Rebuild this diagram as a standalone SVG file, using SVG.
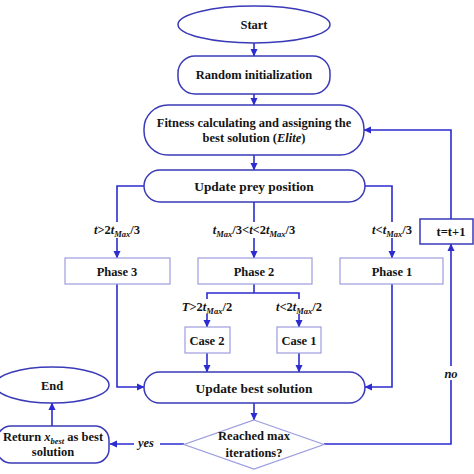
<svg xmlns="http://www.w3.org/2000/svg" width="474" height="474" viewBox="0 0 474 474">
<style>
.bg{fill:#fff}
.n{fill:#fff;stroke:#3a3ab8;stroke-width:1.5}
.p{fill:#fff;stroke:#9c9ce0;stroke-width:1.2}
.c{fill:none;stroke:#2b2bd0;stroke-width:1.6}
.t{font-family:"Liberation Serif","Times New Roman",serif;font-weight:bold;font-size:12.5px;fill:#141414;text-anchor:middle}
.big{font-size:13.4px}
.l{font-family:"Liberation Serif","Times New Roman",serif;font-weight:bold;font-size:12.5px;fill:#141414;text-anchor:middle}
.i{font-style:italic}
.s{font-size:8.5px;font-style:italic}
.w{fill:#fff;stroke:none}
</style>
<defs>
<marker id="a" markerWidth="8" markerHeight="8" refX="7" refY="4" orient="auto" markerUnits="userSpaceOnUse">
<path d="M0,0.5 L7.5,4 L0,7.5 z" fill="#2b2bd0"/>
</marker>
</defs>
<rect class="bg" width="474" height="474"/>

<g id="connectors">
<path class="c" d="M254 43 V56" marker-end="url(#a)"/>
<path class="c" d="M254 94 V105" marker-end="url(#a)"/>
<path class="c" d="M254 155 V170" marker-end="url(#a)"/>
<path class="c" d="M144 186 H117 V258" marker-end="url(#a)"/>
<path class="c" d="M254 202 V258" marker-end="url(#a)"/>
<path class="c" d="M365 186 H392 V258" marker-end="url(#a)"/>
<path class="c" d="M254 284 V293"/>
<path class="c" d="M207 299 V293 H299 V299"/>
<path class="c" d="M207 313 V327" marker-end="url(#a)"/>
<path class="c" d="M299 313 V327" marker-end="url(#a)"/>
<path class="c" d="M207 353 V372" marker-end="url(#a)"/>
<path class="c" d="M299 353 V372" marker-end="url(#a)"/>
<path class="c" d="M117 284 V387 H144" marker-end="url(#a)"/>
<path class="c" d="M392 284 V387 H365" marker-end="url(#a)"/>
<path class="c" d="M254 403 V420" marker-end="url(#a)"/>
<path class="c" d="M184 444 H110" marker-end="url(#a)"/>
<path class="c" d="M52 426 V403" marker-end="url(#a)"/>
<path class="c" d="M324 444 H451 V244" marker-end="url(#a)"/>
<path class="c" d="M451 219 V130 H364" marker-end="url(#a)"/>
<rect class="w" x="84" y="222" width="66" height="16"/>
<text class="l" x="117" y="234"><tspan class="i">t</tspan>&gt;2<tspan class="i">t</tspan><tspan class="s" dy="3">Max</tspan><tspan dy="-3">/3</tspan></text>
<rect class="w" x="210" y="222" width="88" height="16"/>
<text class="l" x="254" y="234"><tspan class="i">t</tspan><tspan class="s" dy="3">Max</tspan><tspan dy="-3">/3&lt;</tspan><tspan class="i">t</tspan>&lt;2<tspan class="i">t</tspan><tspan class="s" dy="3">Max</tspan><tspan dy="-3">/3</tspan></text>
<rect class="w" x="368" y="222" width="48" height="16"/>
<text class="l" x="392" y="234"><tspan class="i">t</tspan>&lt;<tspan class="i">t</tspan><tspan class="s" dy="3">Max</tspan><tspan dy="-3">/3</tspan></text>
<rect class="w" x="180" y="300" width="54" height="14"/>
<text class="l" x="207" y="311"><tspan class="i">T</tspan>&gt;2<tspan class="i">t</tspan><tspan class="s" dy="3">Max</tspan><tspan dy="-3">/2</tspan></text>
<rect class="w" x="274" y="300" width="50" height="14"/>
<text class="l" x="299" y="311"><tspan class="i">t</tspan>&lt;2<tspan class="i">t</tspan><tspan class="s" dy="3">Max</tspan><tspan dy="-3">/2</tspan></text>
<rect class="w" x="134" y="436" width="26" height="14"/>
<text class="l i" x="146" y="447">yes</text>
<rect class="w" x="441" y="366" width="20" height="14"/>
<text class="l i" x="451" y="378">no</text>
</g>

<g id="start">
<ellipse class="n" cx="254" cy="24.5" rx="76" ry="18.5"/>
<text class="t" x="254" y="29">Start</text>
</g>
<g id="random">
<rect class="n" x="178" y="56" width="152" height="38" rx="17"/>
<text class="t" x="254" y="79">Random initialization</text>
</g>
<g id="fitness">
<rect class="n" x="144" y="105" width="220" height="50" rx="24"/>
<text class="t" x="254" y="127">Fitness calculating and assigning the</text>
<text class="t" x="254" y="142">best solution (<tspan class="i">Elite</tspan>)</text>
</g>
<g id="update-prey">
<rect class="n" x="144" y="170" width="221" height="32" rx="16"/>
<text class="t big" x="254" y="190.5">Update prey position</text>
</g>
<g id="phase3">
<rect class="p" x="65" y="258" width="105" height="26"/>
<text class="t" x="117" y="275.5">Phase 3</text>
</g>
<g id="phase2">
<rect class="p" x="198" y="258" width="114" height="26"/>
<text class="t" x="254" y="275.5">Phase 2</text>
</g>
<g id="phase1">
<rect class="p" x="340" y="258" width="103" height="26"/>
<text class="t" x="392" y="275.5">Phase 1</text>
</g>
<g id="case2">
<rect class="p" x="185" y="327" width="45" height="26"/>
<text class="t" x="207" y="344.5">Case 2</text>
</g>
<g id="case1">
<rect class="p" x="277" y="327" width="44" height="26"/>
<text class="t" x="299" y="344.5">Case 1</text>
</g>
<g id="t-inc">
<rect class="n" x="420" y="219" width="53" height="25"/>
<text class="t" x="451" y="236">t=t+1</text>
</g>
<g id="update-best">
<rect class="n" x="144" y="372" width="221" height="31" rx="15.5"/>
<text class="t big" x="254" y="392.5">Update best solution</text>
</g>
<g id="reached">
<polygon class="p" points="254,420 324,444.5 254,469 184,444.5"/>
<text class="t" x="254" y="440">Reached max</text>
<text class="t" x="254" y="457">iterations?</text>
</g>
<g id="return">
<rect class="n" x="-3" y="426" width="112" height="37" rx="14"/>
<text class="t" x="53" y="441">Return <tspan class="i">x</tspan><tspan class="s" dy="2.5">best</tspan><tspan dy="-2.5"> as best</tspan></text>
<text class="t" x="53" y="456">solution</text>
</g>
<g id="end">
<ellipse class="n" cx="52" cy="385" rx="57" ry="18"/>
<text class="t" x="52" y="389.5">End</text>
</g>
</svg>
